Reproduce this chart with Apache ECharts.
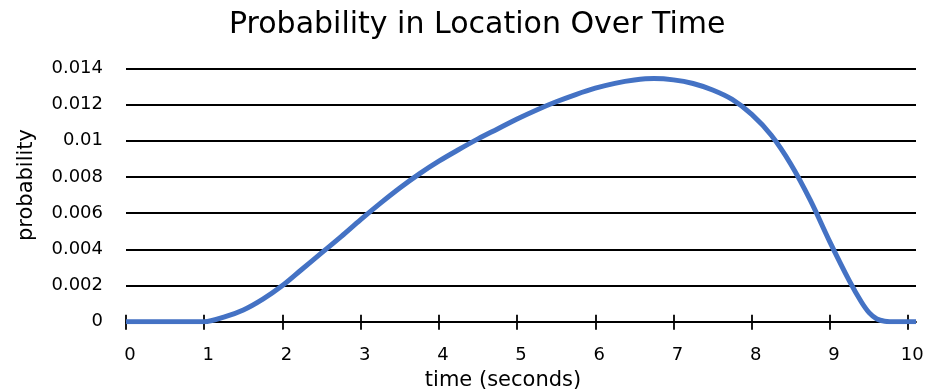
<!DOCTYPE html>
<html>
<head>
<meta charset="utf-8">
<script src="https://cdn.jsdelivr.net/npm/echarts@6/dist/echarts.min.js"></script>
<style>html,body{margin:0;padding:0;background:#fff}#c{width:931px;height:389px}</style>
</head>
<body>
<div id="c"></div>
<script>
const titleText = 'Probability in Location Over Time';
const xName = 'time (seconds)';
const yName = 'probability';
const xTicks = [0,1,2,3,4,5,6,7,8,9,10];
const times = [0,0.5,1.0,1.25,1.5,1.75,2.0,2.25,2.5,2.75,3.0,3.25,3.5,3.75,4.0,4.25,4.5,4.75,5.0,5.25,5.5,5.75,6.0,6.25,6.5,6.75,7.0,7.25,7.5,7.75,8.0,8.25,8.5,8.75,9.0,9.25,9.4,9.5,9.6,9.7,9.85,10.1];
const probs = [0,0,0,0.00025,0.00065,0.00125,0.0020,0.0029,0.0038,0.0047,0.00564,0.00654,0.00739,0.00817,0.00887,0.0095,0.0101,0.01065,0.0112,0.0117,0.01215,0.01255,0.0129,0.01317,0.01335,0.01343,0.01336,0.01316,0.0128,0.01228,0.01145,0.0103,0.0087,0.0067,0.0044,0.00224,0.0011,0.0005,0.00015,0.00003,0,0];

const data = times.map((t,i)=>[t, probs[i]]);
const F = 'DejaVu Sans';
const chart = echarts.init(document.getElementById('c'), null, {renderer:'canvas'});
chart.setOption({
  animation:false,
  backgroundColor:'#fff',
  title:{text:titleText,left:224,top:5,
    textStyle:{fontFamily:F,fontSize:30,fontWeight:'normal',color:'#000'}},
  grid:{left:126,right:15,top:68.3,bottom:67.3,containLabel:false,outerBoundsMode:'none'},
  xAxis:[{
    type:'value',min:0,max:10.1,
    name:xName,nameLocation:'middle',nameGap:47,
    nameTextStyle:{fontFamily:F,fontSize:21,color:'#000',padding:[0,36,0,0]},
    axisLine:{show:true,onZero:false,lineStyle:{color:'#000',width:1.8}},
    axisTick:{show:true,length:8,customValues:xTicks,lineStyle:{color:'#000',width:1.8}},
    axisLabel:{customValues:xTicks,margin:25,fontFamily:F,fontSize:18,color:'#000',padding:[0,0,0,8]},
    splitLine:{show:false}
  },{
    type:'value',min:0,max:10.1,position:'bottom',
    axisLine:{show:false},
    axisTick:{show:true,inside:true,length:7,customValues:xTicks,lineStyle:{color:'#000',width:1.8}},
    axisLabel:{show:false},
    splitLine:{show:false}
  }],
  yAxis:{
    type:'value',min:0,max:0.014,interval:0.002,
    name:yName,nameLocation:'middle',nameGap:89,
    nameTextStyle:{fontFamily:F,fontSize:21,color:'#000',padding:[0,0,0,20]},
    axisLine:{show:false},axisTick:{show:false},
    axisLabel:{margin:23,fontFamily:F,fontSize:18,color:'#000'},
    splitLine:{show:true,lineStyle:{color:'#000',width:1.8}}
  },
  series:[{
    type:'line',data:data,smooth:0.35,showSymbol:false,
    lineStyle:{color:'#4472C4',width:5},z:5
  }]
});
</script>
</body>
</html>
